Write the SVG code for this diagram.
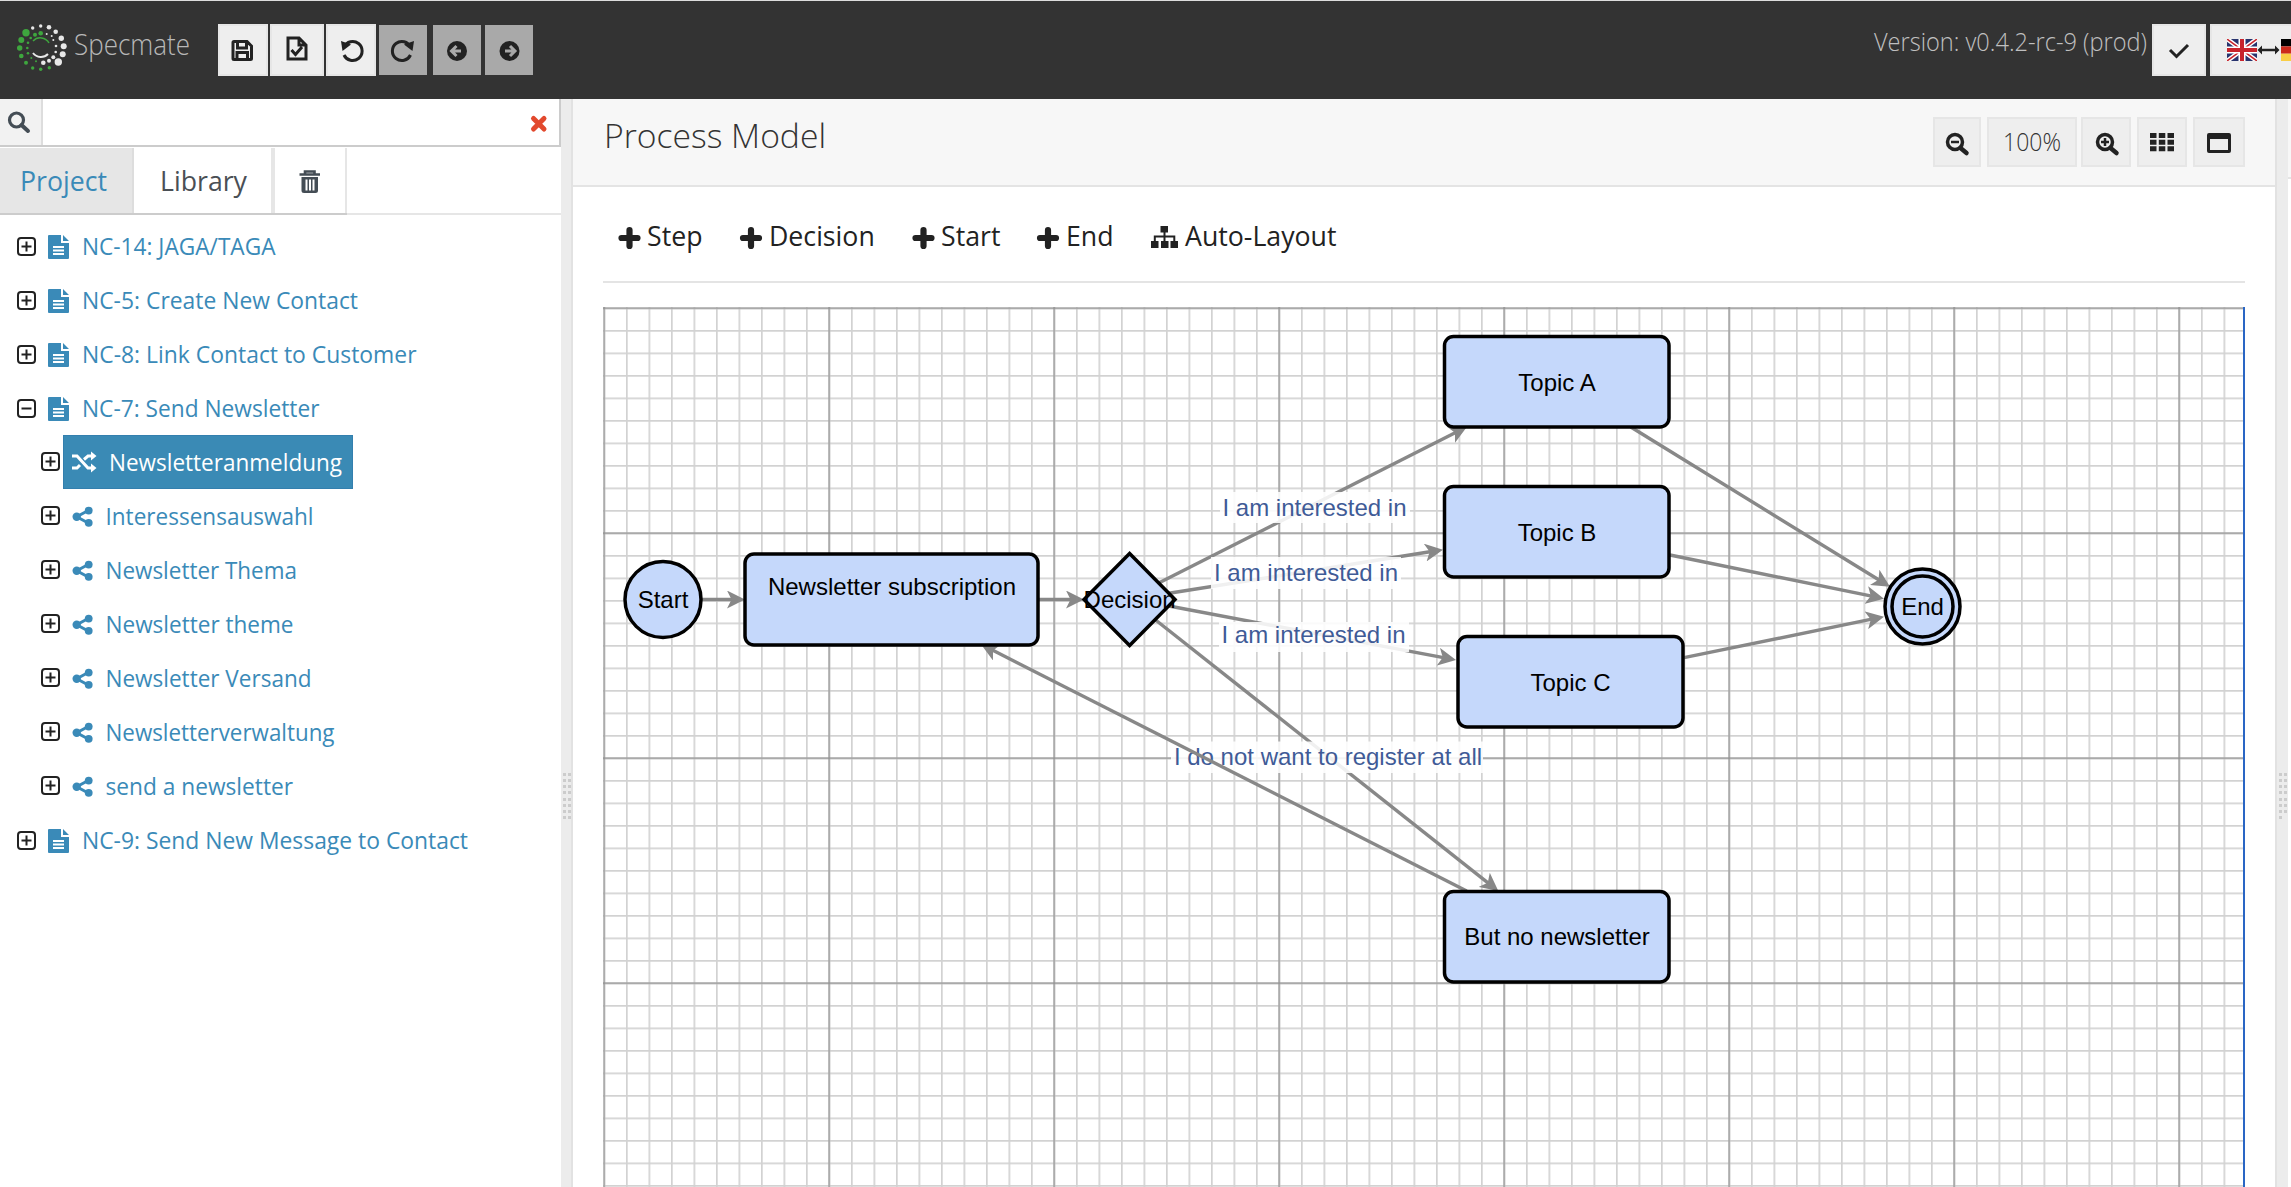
<svg xmlns="http://www.w3.org/2000/svg" xmlns:xlink="http://www.w3.org/1999/xlink" width="2291" height="1187" viewBox="0 0 2291 1187">
<style>
.ui{font-family:"Open Sans","Noto Sans",sans-serif}
.tree{font-size:23.4px;fill:#3a8ab8}
.tool{font-size:26.7px;fill:#222}
.n{fill:#c5d8fb;stroke:#000;stroke-width:3.5}
.nt{font-family:"Liberation Sans",Arial,sans-serif;font-size:24px;fill:#000;text-anchor:middle}
.lt{font-family:"Liberation Sans",Arial,sans-serif;font-size:24px;fill:#3f5b97;text-anchor:middle}
.lb{fill:#fff;fill-opacity:.87}
.e{fill:none;stroke:#888;stroke-width:3.4;marker-end:url(#ah)}
.btn{fill:#eee;stroke:#e6e6e6;stroke-width:2}
.dis{fill:#a9a9a9}
.ic{fill:none;stroke:#222;stroke-width:3}
.icf{fill:#222}
.sp{fill:#ececec}
.spd{fill:#ccc}
.g{fill:#3ea63e}.w{fill:#e8e8e8}
</style>
<defs>
<marker id="ah" markerUnits="userSpaceOnUse" viewBox="0 0 18 18" refX="8" refY="9" markerWidth="18" markerHeight="18" orient="auto"><path d="M18,9 L0,0 L4.5,9 L0,18 Z" fill="#888"/></marker>
<pattern id="minor" patternUnits="userSpaceOnUse" x="603.5" y="307.5" width="22.5" height="22.5"><path d="M0,0V22.5M0,0H22.5" stroke="#d2d2d2" stroke-width="3.4" fill="none"/></pattern>
<pattern id="major" patternUnits="userSpaceOnUse" x="603.5" y="307.5" width="225" height="225"><path d="M0,0V225M0,0H225" stroke="#8e8e8e" stroke-width="2.4" fill="none"/></pattern>
<symbol id="plusbox" viewBox="0 0 19 19" overflow="visible"><rect x="1" y="1" width="17" height="17" rx="3" fill="none" stroke="#222" stroke-width="2"/><path d="M9.5,4.5V14.5M4.5,9.5H14.5" stroke="#222" stroke-width="2"/></symbol>
<symbol id="minusbox" viewBox="0 0 19 19" overflow="visible"><rect x="1" y="1" width="17" height="17" rx="3" fill="none" stroke="#222" stroke-width="2"/><path d="M4.5,9.5H14.5" stroke="#222" stroke-width="2"/></symbol>
<symbol id="doc" viewBox="0 0 21 24" overflow="visible"><path d="M1,0H13V8H21V23Q21,24 20,24H1Q0,24 0,23V1Q0,0 1,0Z M15,0L21,6H15Z" fill="#3a8ab8"/><path d="M5,12H16M5,15.5H16M5,19H16" stroke="#fff" stroke-width="1.8"/></symbol>
<symbol id="share" viewBox="0 0 20 20" overflow="visible"><path d="M16,3.5L4,10L16,16.5" fill="none" stroke="#3a8ab8" stroke-width="3"/><circle cx="16" cy="3.9" r="3.9" fill="#3a8ab8"/><circle cx="16" cy="16.1" r="3.9" fill="#3a8ab8"/><circle cx="4" cy="10" r="4.2" fill="#3a8ab8"/></symbol>
<symbol id="plus" viewBox="0 0 22 22" overflow="visible"><path d="M11,3V19M3,11H19" stroke="#222" stroke-width="6.2" stroke-linecap="round"/></symbol>
</defs>

<rect width="2291" height="1187" fill="#fff"/>

<g id="panels">
<rect x="573" y="99" width="1702" height="86" fill="#f7f7f7"/>
<rect x="573" y="185" width="1702" height="2" fill="#e4e4e4"/>
<rect x="2288" y="99" width="3" height="78" fill="#f7f7f7"/>
<rect x="2288" y="177" width="3" height="2" fill="#e4e4e4"/>
<rect class="sp" x="561" y="99" width="12" height="1088"/>
<rect x="571" y="99" width="2" height="1088" fill="#e2e2e2"/>
<rect class="sp" x="2275" y="99" width="13" height="1088"/>
<rect x="2275" y="99" width="2" height="1088" fill="#e2e2e2"/>
<g id="grip-left" class="spd"><path d="M563,773h3v3h-3zM568,773h3v3h-3zM563,779h3v3h-3zM568,779h3v3h-3zM563,785h3v3h-3zM568,785h3v3h-3zM563,791h3v3h-3zM568,791h3v3h-3zM563,798h3v3h-3zM568,798h3v3h-3zM563,804h3v3h-3zM568,804h3v3h-3zM563,810h3v3h-3zM568,810h3v3h-3zM563,816h3v3h-3zM568,816h3v3h-3z"/></g>
<g id="grip-right" class="spd"><path d="M2279,773h3v3h-3zM2284,773h3v3h-3zM2279,779h3v3h-3zM2284,779h3v3h-3zM2279,785h3v3h-3zM2284,785h3v3h-3zM2279,791h3v3h-3zM2284,791h3v3h-3zM2279,798h3v3h-3zM2284,798h3v3h-3zM2279,804h3v3h-3zM2284,804h3v3h-3zM2279,810h3v3h-3zM2284,810h3v3h-3zM2279,816h3v3h-3z"/></g>
</g>

<g id="header">
<rect width="2291" height="99" fill="#333"/>
<rect width="2291" height="1" fill="#ddd"/>
<g id="logo">
<circle class="g" cx="26" cy="32.7" r="3.7"/><circle class="g" cx="21.3" cy="40" r="3"/><circle class="g" cx="19.7" cy="48" r="2.7"/><circle class="g" cx="21.3" cy="56" r="2.3"/><circle class="g" cx="26" cy="62.7" r="2"/><circle class="g" cx="32.7" cy="68" r="1.7"/><circle class="g" cx="40.7" cy="69.3" r="1.7"/><circle class="g" cx="49.3" cy="67.7" r="1.7"/>
<circle class="w" cx="58.3" cy="62" r="3.7"/><circle class="w" cx="62.7" cy="54.3" r="3"/><circle class="w" cx="63.7" cy="46.3" r="3"/><circle class="w" cx="61.3" cy="38.3" r="2.7"/><circle class="w" cx="55.7" cy="31.7" r="2.3"/><circle class="w" cx="49" cy="27.3" r="2.3"/><circle class="w" cx="40.7" cy="26" r="1.7"/><circle class="w" cx="32.7" cy="28" r="1.7"/>
<circle class="g" cx="35" cy="34.7" r="2"/><circle class="g" cx="40.7" cy="33.3" r="2.3"/><circle class="g" cx="30.7" cy="38" r="1.3"/><circle class="g" cx="28" cy="42.7" r="1.3"/><circle class="g" cx="27.3" cy="48" r="1.3"/><circle class="g" cx="28" cy="53.3" r="1.3"/><circle class="g" cx="31.3" cy="58" r="1"/><circle class="g" cx="36" cy="61.3" r="1"/>
<circle class="w" cx="43.3" cy="62.7" r="2.3"/><circle class="w" cx="49" cy="60.7" r="2"/><circle class="w" cx="53.3" cy="57.3" r="2"/><circle class="w" cx="55.7" cy="52" r="1.3"/><circle class="w" cx="56" cy="46" r="1.3"/><circle class="w" cx="53.3" cy="40" r="1"/><circle class="w" cx="51.7" cy="36" r="1"/><circle class="w" cx="46.7" cy="34" r="1"/>
<path d="M33,41A10,10 0 0 1 49,43" fill="none" stroke="#3ea63e" stroke-width="1.5"/><path d="M33,53A10,10 0 0 0 48,54" fill="none" stroke="#e8e8e8" stroke-width="2"/>
</g>
<text class="ui" x="74" y="55" font-size="29" fill="#b8b8b8" font-weight="300" textLength="116" lengthAdjust="spacingAndGlyphs">Specmate</text>
<g id="top-buttons">
<rect class="btn" x="219" y="25" width="48" height="50"/>
<rect class="btn" x="271" y="25" width="52" height="50"/>
<rect class="btn" x="327" y="25" width="48" height="50"/>
<rect class="dis" x="379" y="25" width="48" height="50"/>
<rect class="dis" x="433" y="25" width="48" height="50"/>
<rect class="dis" x="485" y="25" width="48" height="50"/>
<path class="ic" d="M234,41.5H247L251.5,46V58.5Q251.5,59.5 250.5,59.5H234Q233,59.5 233,58.5V42.5Q233,41.5 234,41.5Z M237.5,41.5V48H246.5V41.5 M237,59.5V52.500H247.5V59.5" stroke-width="2.5"/>
<path class="ic" d="M288,38H299L306,45V59H288Z M299,38V45H306 M291.5,50L295.5,54.5L302,47" stroke-width="2.3"/>
<path class="ic" d="M344,47A9.5,9.5 0 1 1 344,55" stroke-width="4"/><path class="icf" d="M341,41L351,44.5L342.5,51Z"/>
<path class="ic" d="M410.5,47A9.5,9.5 0 1 0 410.5,55" stroke-width="4"/><path class="icf" d="M414,41L404,44.5L412.5,51Z"/>
<circle class="icf" cx="457" cy="51" r="10"/><path d="M461,51H452.5M456.5,46L451.5,51L456.5,56" fill="none" stroke="#a9a9a9" stroke-width="3"/>
<circle class="icf" cx="509.5" cy="51" r="10"/><path d="M505,51H514M510,46L515,51L510,56" fill="none" stroke="#a9a9a9" stroke-width="3"/>
</g>
<text class="ui" x="1874" y="51" font-size="25.5" fill="#c0c0c0" font-weight="300" textLength="273" lengthAdjust="spacingAndGlyphs">Version: v0.4.2-rc-9 (prod)</text>
<rect class="btn" x="2153" y="25" width="52" height="50"/>
<path class="ic" d="M2170,50L2176.5,56.500L2188,45" stroke-width="5.500"/>
<rect class="btn" x="2211" y="25" width="82" height="50"/>
<g id="flags">
<clipPath id="ukc"><rect x="2227" y="39" width="30" height="22"/></clipPath>
<g clip-path="url(#ukc)"><rect x="2227" y="39" width="30" height="22" fill="#28346e"/>
<path d="M2227,39L2257,61M2257,39L2227,61" stroke="#fff" stroke-width="4.5"/><path d="M2227,39L2257,61M2257,39L2227,61" stroke="#c8242c" stroke-width="1.5"/>
<path d="M2242,39V61M2227,50H2257" stroke="#fff" stroke-width="7"/><path d="M2242,39V61M2227,50H2257" stroke="#c8242c" stroke-width="4"/></g>
<path d="M2260,50H2277" stroke="#222" stroke-width="2.5"/><path class="icf" d="M2257.5,50L2262,45.5V54.5ZM2279.5,50L2275,45.5V54.5Z"/>
<rect x="2281" y="39" width="10" height="7.4" fill="#000"/><rect x="2281" y="46.4" width="10" height="7.3" fill="#cc2a1c"/><rect x="2281" y="53.7" width="10" height="7.3" fill="#f9ce46"/>
</g>
</g>

<g id="sidebar">
<rect x="0" y="99" width="41" height="47" fill="#f2f2f2"/>
<rect x="41" y="99" width="2" height="47" fill="#ddd"/>
<rect x="0" y="145" width="561" height="2" fill="#ccc"/>
<rect x="559" y="99" width="2" height="48" fill="#ccc"/>
<circle cx="16.5" cy="120" r="7" fill="none" stroke="#444d55" stroke-width="3.2"/><path d="M21.5,125L28,131" stroke="#444d55" stroke-width="4" stroke-linecap="round"/>
<path d="M533.5,118.5L544,129M544,118.5L533.5,129" stroke="#e2492d" stroke-width="5" stroke-linecap="round"/>
<rect x="0" y="148" width="132" height="65" fill="#e6e6e6"/>
<rect x="132" y="148" width="2" height="65" fill="#ddd"/>
<rect x="271" y="148" width="4" height="65" fill="#e6e6e6"/>
<rect x="345" y="148" width="2" height="65" fill="#e6e6e6"/>
<rect x="0" y="213" width="347" height="2" fill="#ccc"/>
<rect x="347" y="213" width="214" height="2" fill="#e6e6e6"/>
<text class="ui" x="20" y="191" font-size="27.5" fill="#3a8ab8" textLength="87" lengthAdjust="spacingAndGlyphs">Project</text>
<text class="ui" x="160" y="191" font-size="27.5" fill="#4a4f55" textLength="87" lengthAdjust="spacingAndGlyphs">Library</text>
<path d="M299.5,174.5H320M305,174V171.5H314.5V174" fill="none" stroke="#444d55" stroke-width="2.6"/><path d="M301.5,177H318V190.5Q318,193 315.5,193H304Q301.5,193 301.5,190.5Z M305.5,179.5V190.5H307.5V179.5Z M309,179.5V190.5H311V179.5Z M312.5,179.5V190.5H314.5V179.5Z" fill="#444d55" fill-rule="evenodd"/>

<g id="tree">
<use xlink:href="#plusbox" href="#plusbox" x="17" y="237" width="19" height="19"/><use xlink:href="#doc" href="#doc" x="48" y="235" width="21" height="24"/><text class="ui tree" x="82" y="255" textLength="193.500" lengthAdjust="spacingAndGlyphs">NC-14: JAGA/TAGA</text>
<use xlink:href="#plusbox" href="#plusbox" x="17" y="291" width="19" height="19"/><use xlink:href="#doc" href="#doc" x="48" y="289" width="21" height="24"/><text class="ui tree" x="82" y="309" textLength="276" lengthAdjust="spacingAndGlyphs">NC-5: Create New Contact</text>
<use xlink:href="#plusbox" href="#plusbox" x="17" y="345" width="19" height="19"/><use xlink:href="#doc" href="#doc" x="48" y="343" width="21" height="24"/><text class="ui tree" x="82" y="363" textLength="334.500" lengthAdjust="spacingAndGlyphs">NC-8: Link Contact to Customer</text>
<use xlink:href="#minusbox" href="#minusbox" x="17" y="399" width="19" height="19"/><use xlink:href="#doc" href="#doc" x="48" y="397" width="21" height="24"/><text class="ui tree" x="82" y="417" textLength="237.500" lengthAdjust="spacingAndGlyphs">NC-7: Send Newsletter</text>
<use xlink:href="#plusbox" href="#plusbox" x="41" y="452" width="19" height="19"/>
<rect x="63.5" y="435.5" width="289" height="53" fill="#3a8ab5" stroke="#337fae"/>
<path d="M72,456H77L88,468H92M72,468H77L80,465M84,459.5L88,456H92" fill="none" stroke="#fff" stroke-width="3"/><path d="M91,451.5L96.5,456L91,460.5ZM91,463.5L96.5,468L91,472.5Z" fill="#fff"/>
<text class="ui tree" x="109" y="471" style="fill:#fff" textLength="233" lengthAdjust="spacingAndGlyphs">Newsletteranmeldung</text>
<use xlink:href="#plusbox" href="#plusbox" x="41" y="506" width="19" height="19"/><use xlink:href="#share" href="#share" x="72.7" y="506.7" width="20" height="20"/><text class="ui tree" x="105.5" y="525" textLength="208" lengthAdjust="spacingAndGlyphs">Interessensauswahl</text>
<use xlink:href="#plusbox" href="#plusbox" x="41" y="560" width="19" height="19"/><use xlink:href="#share" href="#share" x="72.7" y="560.7" width="20" height="20"/><text class="ui tree" x="105.5" y="579" textLength="191.5" lengthAdjust="spacingAndGlyphs">Newsletter Thema</text>
<use xlink:href="#plusbox" href="#plusbox" x="41" y="614" width="19" height="19"/><use xlink:href="#share" href="#share" x="72.7" y="614.7" width="20" height="20"/><text class="ui tree" x="105.5" y="633" textLength="188" lengthAdjust="spacingAndGlyphs">Newsletter theme</text>
<use xlink:href="#plusbox" href="#plusbox" x="41" y="668" width="19" height="19"/><use xlink:href="#share" href="#share" x="72.7" y="668.7" width="20" height="20"/><text class="ui tree" x="105.5" y="687" textLength="206" lengthAdjust="spacingAndGlyphs">Newsletter Versand</text>
<use xlink:href="#plusbox" href="#plusbox" x="41" y="722" width="19" height="19"/><use xlink:href="#share" href="#share" x="72.7" y="722.7" width="20" height="20"/><text class="ui tree" x="105.5" y="741" textLength="229" lengthAdjust="spacingAndGlyphs">Newsletterverwaltung</text>
<use xlink:href="#plusbox" href="#plusbox" x="41" y="776" width="19" height="19"/><use xlink:href="#share" href="#share" x="72.7" y="776.7" width="20" height="20"/><text class="ui tree" x="105.5" y="795" textLength="187.5" lengthAdjust="spacingAndGlyphs">send a newsletter</text>
<use xlink:href="#plusbox" href="#plusbox" x="17" y="831" width="19" height="19"/><use xlink:href="#doc" href="#doc" x="48" y="829" width="21" height="24"/><text class="ui tree" x="82" y="849" textLength="386" lengthAdjust="spacingAndGlyphs">NC-9: Send New Message to Contact</text>
</g>
</g>

<g id="editor-head">
<text class="ui" x="604" y="148" font-size="33.5" fill="#333" font-weight="300" textLength="222" lengthAdjust="spacingAndGlyphs">Process Model</text>
<rect class="btn" x="1934" y="118" width="46" height="48"/>
<rect class="btn" x="1988" y="118" width="88" height="48"/>
<rect class="btn" x="2082" y="118" width="48" height="48"/>
<rect class="btn" x="2138" y="118" width="48" height="48"/>
<rect class="btn" x="2194" y="118" width="50" height="48"/>
<circle cx="1955" cy="142" r="7.5" fill="none" stroke="#222" stroke-width="3.5"/><path d="M1951,142H1959" stroke="#222" stroke-width="2.5"/><path d="M1960.5,148L1966.5,153" stroke="#222" stroke-width="4.5" stroke-linecap="round"/>
<text class="ui" x="2003" y="151" font-size="25.5" fill="#333" font-weight="300" textLength="58" lengthAdjust="spacingAndGlyphs">100%</text>
<circle cx="2105" cy="142" r="7.5" fill="none" stroke="#222" stroke-width="3.5"/><path d="M2101,142H2109M2105,138V146" stroke="#222" stroke-width="2.5"/><path d="M2110.5,148L2116.5,153" stroke="#222" stroke-width="4.5" stroke-linecap="round"/>
<path class="icf" d="M2150,133h6.5v5h-6.5zM2158.8,133h6.5v5h-6.5zM2167.5,133h6.5v5h-6.5zM2150,139.7h6.5v5h-6.5zM2158.8,139.7h6.5v5h-6.5zM2167.5,139.7h6.5v5h-6.5zM2150,146.3h6.5v5h-6.5zM2158.8,146.3h6.5v5h-6.5zM2167.5,146.3h6.5v5h-6.5z"/>
<path class="icf" fill-rule="evenodd" d="M2209,133H2229Q2231,133 2231,135V151Q2231,153 2229,153H2209Q2207,153 2207,151V135Q2207,133 2209,133ZM2210,139V150H2228V139Z"/>
</g>

<g id="toolbar">
<use xlink:href="#plus" href="#plus" x="618.5" y="227" width="22" height="22"/><text class="ui tool" x="647" y="246">Step</text>
<use xlink:href="#plus" href="#plus" x="740" y="227" width="22" height="22"/><text class="ui tool" x="769" y="246">Decision</text>
<use xlink:href="#plus" href="#plus" x="912.5" y="227" width="22" height="22"/><text class="ui tool" x="941" y="246">Start</text>
<use xlink:href="#plus" href="#plus" x="1037" y="227" width="22" height="22"/><text class="ui tool" x="1066" y="246">End</text>
<path class="icf" d="M1160.5,226h7.5v6.5h-7.5zM1151,241h7.5v7h-7.5zM1161,241h7.5v7h-7.5zM1170.5,241h7.5v7h-7.5z"/><path d="M1164.5,232V241M1154.8,241V236.5H1174.3V241" fill="none" stroke="#222" stroke-width="2"/>
<text class="ui tool" x="1185" y="246">Auto-Layout</text>
<rect x="603" y="281" width="1642" height="2" fill="#e4e4e4"/>
</g>

<g id="canvas">
<rect x="603" y="307" width="1641" height="880" fill="url(#minor)"/>
<rect x="603" y="307" width="1641" height="880" fill="url(#major)"/>
<rect x="2243" y="307" width="2" height="880" fill="#2a66c4"/>
</g>

<g id="connectors">
<path class="e" d="M701,599.5H735"/>
<path class="e" d="M1038,599.5H1074"/>
<path class="e" d="M1158.7,583L1458.1,431.2"/>
<path class="e" d="M1169,593.3L1433.1,551.3"/>
<path class="e" d="M1169,606L1446.2,658.2"/>
<path class="e" d="M1630.8,427L1881.5,581.5"/>
<path class="e" d="M1670,555L1874.2,596.7"/>
<path class="e" d="M1684,657.7L1874.2,618.7"/>
<path class="e" d="M1155.6,620L1490.5,884.8"/>
<g id="edge-labels">
<rect class="lb" x="1220" y="492" width="190" height="31"/>
<text class="lt" x="1314.5" y="516">I am interested in</text>
<rect class="lb" x="1211" y="557" width="190" height="32"/>
<text class="lt" x="1306" y="581">I am interested in</text>
<rect class="lb" x="1219" y="622" width="190" height="30"/>
<text class="lt" x="1313.5" y="643">I am interested in</text>
<rect class="lb" x="1171" y="741.5" width="312" height="31.5"/>
<text class="lt" x="1328" y="765">I do not want to register at all</text>
</g>
<path class="e" d="M1466.7,891L989.9,648.8"/>
</g>

<g id="node-start"><circle class="n" cx="663" cy="599.5" r="38"/><text class="nt" x="663" y="608">Start</text></g>
<g id="node-subscription"><rect class="n" x="745" y="554" width="293" height="91" rx="9"/><text class="nt" x="892" y="595">Newsletter subscription</text></g>
<g id="node-decision"><path class="n" d="M1129.6,553.5L1175,599.5L1129.6,645.5L1084,599.5Z"/><text class="nt" x="1129.6" y="608">Decision</text></g>
<g id="node-topic-a"><rect class="n" x="1444.5" y="336.5" width="224.5" height="90.5" rx="9"/><text class="nt" x="1557" y="391">Topic A</text></g>
<g id="node-topic-b"><rect class="n" x="1444.5" y="486.5" width="224.5" height="90.5" rx="9"/><text class="nt" x="1557" y="541">Topic B</text></g>
<g id="node-topic-c"><rect class="n" x="1458" y="636.5" width="225" height="90.5" rx="9"/><text class="nt" x="1570.5" y="691">Topic C</text></g>
<g id="node-no-newsletter"><rect class="n" x="1444.5" y="891.5" width="224.5" height="90.5" rx="9"/><text class="nt" x="1557" y="945">But no newsletter</text></g>
<g id="node-end"><circle class="n" cx="1922.5" cy="606.5" r="37.5"/><circle class="n" cx="1922.5" cy="606.5" r="30.5"/><text class="nt" x="1922.5" y="615">End</text></g>
</svg>
